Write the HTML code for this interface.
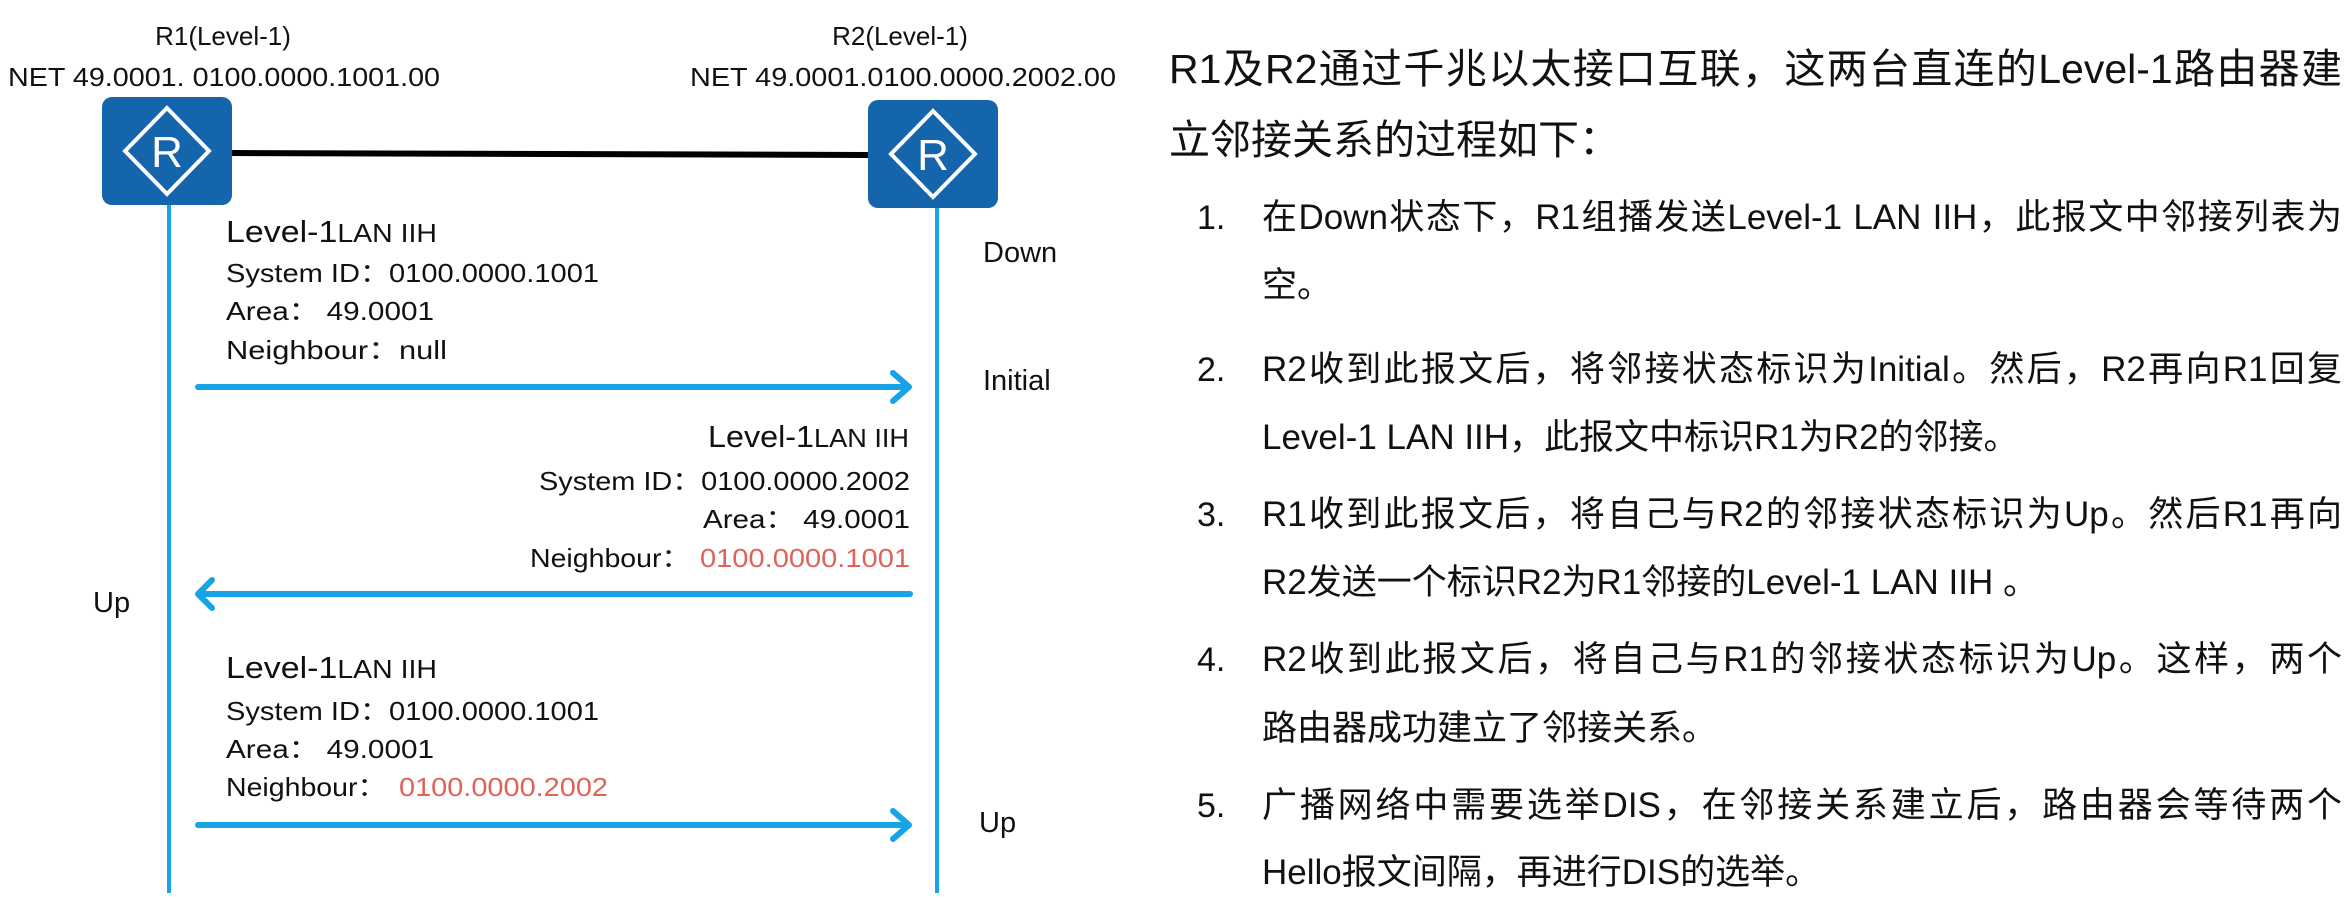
<!DOCTYPE html>
<html><head><meta charset="utf-8"><style>
body{margin:0;width:2349px;height:904px;background:#fff;overflow:hidden;position:relative;font-family:"Liberation Sans","Noto Sans CJK SC",sans-serif;}
svg{position:absolute;left:0;top:0}
.r{position:absolute;white-space:nowrap;color:#111;font-family:"Liberation Sans","Noto Sans CJK SC",sans-serif;line-height:44px;}
.t{font-size:41px;left:1169px;width:1173px;text-align:justify;text-align-last:justify;line-height:50px}
.n{font-size:34px;left:1197px}
.l{font-size:35px;left:1262px}
.j{width:1080px;text-align:justify;text-align-last:justify}
</style></head><body>
<svg width="1150" height="904" viewBox="0 0 1150 904" font-family="Liberation Sans, sans-serif" fill="#111">
<g font-size="26" text-anchor="middle">
<text x="223" y="45">R1(Level-1)</text>
<text x="224" y="86" textLength="432" lengthAdjust="spacingAndGlyphs">NET 49.0001. 0100.0000.1001.00</text>
<text x="900" y="45">R2(Level-1)</text>
<text x="903" y="86" textLength="426" lengthAdjust="spacingAndGlyphs">NET 49.0001.0100.0000.2002.00</text>
</g>
<line x1="230" y1="153" x2="868" y2="155" stroke="#000" stroke-width="6"/>
<line x1="169" y1="205" x2="169" y2="893" stroke="#17a4e6" stroke-width="4"/>
<line x1="937" y1="208" x2="937" y2="893" stroke="#17a4e6" stroke-width="4"/>
<g>
<rect x="102" y="97" width="130" height="108" rx="10" fill="#1565ac"/>
<polygon points="167,108 209,151 167,194 125,151" fill="none" stroke="#fff" stroke-width="4"/>
<text x="167" y="167" font-size="44" fill="#fff" text-anchor="middle">R</text>
<rect x="868" y="100" width="130" height="108" rx="10" fill="#1565ac"/>
<polygon points="933,111 975,154 933,197 891,154" fill="none" stroke="#fff" stroke-width="4"/>
<text x="933" y="170" font-size="44" fill="#fff" text-anchor="middle">R</text>
</g>
<g stroke="#17a4e6" stroke-width="6" fill="none" stroke-linecap="round" stroke-linejoin="round">
<line x1="198" y1="387" x2="908" y2="387"/><polyline points="893,373 909,387 893,401"/>
<line x1="205" y1="594" x2="910" y2="594"/><polyline points="212,580 198,594 212,608"/>
<line x1="198" y1="825" x2="908" y2="825"/><polyline points="893,811 909,825 893,839"/>
</g>
<g font-size="26">
<text x="226" y="242" textLength="211" lengthAdjust="spacingAndGlyphs"><tspan font-size="31">Level-1</tspan>LAN IIH</text>
<text x="226" y="282" textLength="373" lengthAdjust="spacingAndGlyphs">System ID：0100.0000.1001</text>
<text x="226" y="320" textLength="208" lengthAdjust="spacingAndGlyphs">Area：  49.0001</text>
<text x="226" y="359" textLength="221" lengthAdjust="spacingAndGlyphs">Neighbour：null</text>
<text x="983" y="262" font-size="29">Down</text>
<text x="983" y="390" font-size="29">Initial</text>
<text x="708" y="447" textLength="201" lengthAdjust="spacingAndGlyphs"><tspan font-size="31">Level-1</tspan>LAN IIH</text>
<text x="539" y="490" textLength="371" lengthAdjust="spacingAndGlyphs">System ID：0100.0000.2002</text>
<text x="703" y="528" textLength="207" lengthAdjust="spacingAndGlyphs">Area：  49.0001</text>
<text x="530" y="567" textLength="160" lengthAdjust="spacingAndGlyphs">Neighbour：</text>
<text x="700" y="567" fill="#e0625a" textLength="210" lengthAdjust="spacingAndGlyphs">0100.0000.1001</text>
<text x="93" y="612" font-size="29">Up</text>
<text x="226" y="678" textLength="211" lengthAdjust="spacingAndGlyphs"><tspan font-size="31">Level-1</tspan>LAN IIH</text>
<text x="226" y="720" textLength="373" lengthAdjust="spacingAndGlyphs">System ID：0100.0000.1001</text>
<text x="226" y="758" textLength="208" lengthAdjust="spacingAndGlyphs">Area：  49.0001</text>
<text x="226" y="796" textLength="160" lengthAdjust="spacingAndGlyphs">Neighbour：</text>
<text x="399" y="796" fill="#e0625a" textLength="209" lengthAdjust="spacingAndGlyphs">0100.0000.2002</text>
<text x="979" y="832" font-size="29">Up</text>
</g>
</svg>
<div class="r t" style="top:44px">R1及R2通过千兆以太接口互联，这两台直连的Level-1路由器建</div>
<div class="r" style="top:115px;left:1169px;font-size:41px;line-height:50px">立邻接关系的过程如下：</div>
<div class="r n" style="top:196px">1.</div>
<div class="r l j" style="top:196px">在Down状态下，R1组播发送Level-1 LAN IIH，此报文中邻接列表为</div>
<div class="r l" style="top:264px">空。</div>
<div class="r n" style="top:348px">2.</div>
<div class="r l j" style="top:348px">R2收到此报文后，将邻接状态标识为Initial。然后，R2再向R1回复</div>
<div class="r l" style="top:416px">Level-1 LAN IIH，此报文中标识R1为R2的邻接。</div>
<div class="r n" style="top:493px">3.</div>
<div class="r l j" style="top:493px">R1收到此报文后，将自己与R2的邻接状态标识为Up。然后R1再向</div>
<div class="r l" style="top:561px">R2发送一个标识R2为R1邻接的Level-1 LAN IIH 。</div>
<div class="r n" style="top:638px">4.</div>
<div class="r l j" style="top:638px">R2收到此报文后，将自己与R1的邻接状态标识为Up。这样，两个</div>
<div class="r l" style="top:707px">路由器成功建立了邻接关系。</div>
<div class="r n" style="top:784px">5.</div>
<div class="r l j" style="top:784px">广播网络中需要选举DIS，在邻接关系建立后，路由器会等待两个</div>
<div class="r l" style="top:851px">Hello报文间隔，再进行DIS的选举。</div>
</body></html>
